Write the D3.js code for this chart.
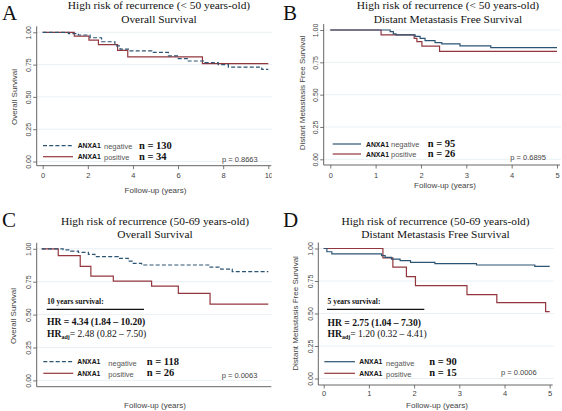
<!DOCTYPE html>
<html><head><meta charset="utf-8">
<script src="https://cdn.jsdelivr.net/npm/d3@7"></script>
<style>body{margin:0;background:#fff}svg{display:block}</style>
</head><body><svg id="c" width="562" height="411"></svg>
<script>
// ---------- DATA ----------
const yTickValues = [0, 0.25, 0.5, 0.75, 1];
const xTicks10 = [0, 2, 4, 6, 8, 10];
const xTicks5 = [0, 1, 2, 3, 4, 5];
const groupLabels = ["negative", "positive"];

// Panel A: OS, < 50 years
const aNegT = [0, 1.14, 1.58, 2.10, 2.61, 3.20, 3.43, 3.80, 4.83, 5.57, 6.01, 6.45, 7.19, 7.78, 8.23, 9.71, 10];
const aNegS = [1, 0.99, 0.979, 0.958, 0.927, 0.895, 0.87, 0.856, 0.844, 0.817, 0.797, 0.778, 0.766, 0.75, 0.731, 0.713, 0.713];
const aPosT = [0, 1.40, 2.05, 2.47, 3.32, 3.77, 7.08, 10];
const aPosS = [1, 0.970, 0.94, 0.905, 0.86, 0.81, 0.758, 0.758];
// Panel B: DMFS, < 50 years
const bNegT = [0, 1.32, 1.39, 1.45, 1.87, 1.98, 2.09, 2.31, 2.46, 2.86, 3.54, 5];
const bNegS = [1, 0.987, 0.97, 0.962, 0.95, 0.936, 0.918, 0.903, 0.893, 0.878, 0.864, 0.864];
const bPosT = [0, 1.12, 1.85, 1.91, 2.02, 2.41, 5];
const bPosS = [1, 0.962, 0.936, 0.91, 0.875, 0.834, 0.834];
// Panel C: OS, 50-69 years
const cNegT = [0, 0.95, 1.28, 1.62, 2.06, 2.35, 3.38, 3.82, 4.04, 4.41, 7.43, 7.9, 8.41, 10];
const cNegS = [1, 0.992, 0.983, 0.973, 0.958, 0.94, 0.928, 0.907, 0.89, 0.877, 0.86, 0.846, 0.826, 0.826];
const cPosT = [0, 0.73, 1.70, 2.17, 3.16, 4.85, 6.03, 7.43, 10];
const cPosS = [1, 0.948, 0.866, 0.792, 0.755, 0.716, 0.662, 0.579, 0.579];
// Panel D: DMFS, 50-69 years
const dNegT = [0, 0.07, 0.18, 1.28, 1.36, 1.5, 1.69, 1.92, 2.46, 3.38, 4.67, 5];
const dNegS = [1, 0.975, 0.958, 0.945, 0.932, 0.919, 0.906, 0.894, 0.883, 0.873, 0.862, 0.862];
const dPosT = [0, 1.31, 1.53, 1.83, 2.03, 3.17, 3.83, 4.91, 5];
const dPosS = [1, 0.928, 0.856, 0.783, 0.714, 0.645, 0.583, 0.514, 0.514];

const nNeg = [130, 95, 118, 90];
const nPos = [34, 26, 26, 15];
const pValues = ["p = 0.8663", "p = 0.6895", "p = 0.0063", "p = 0.0006"];
const panelLetters = ["A", "B", "C", "D"];
const titles1 = ["High risk of recurrence (< 50 years-old)", "High risk of recurrence (< 50 years-old)",
                 "High risk of recurrence (50-69 years-old)", "High risk of recurrence (50-69 years-old)"];
const titles2 = ["Overall Survival", "Distant Metastasis Free Survival", "Overall Survival", "Distant Metastasis Free Survival"];
const yLabels = ["Overall Survival", "Distant Metastasis Free Survival", "Overall Survival", "Distant Metastasis Free Survival"];
const xLabel = "Follow-up (years)";
const hrHeads = [null, null, "10 years survival:", "5 years survival:"];
const hrLines = [null, null, "HR = 4.34 (1.84 \u2013 10.20)", "HR = 2.75 (1.04 \u2013 7.30)"];
const hrAdjLines = [null, null, "= 2.48 (0.82 \u2013 7.50)", "= 1.20 (0.32 \u2013 4.41)"];

// ---------- DRAW ----------
const svg = d3.select('#c');
const serif = '"Liberation Serif","Times New Roman",serif';
const sans = '"Liberation Sans",Arial,sans-serif';
const NEG = '#2c5473', POS = '#93373e';

function zip(t, s) { return t.map((d, i) => ({t: d, s: s[i]})); }

const layout = [
  {x0: 42.7, x1: 268.3, xMax: 10, xt: xTicks10, y0: 161.5, y1: 32.3, axX: 36.7, axY: 165.7, tickLab: 178.5,
   clip: 271.8, cx: 159, t1: 8.5, t2: 22.5, letX: 2, letY: 20, ylx: 16.7, yly: 97, xlx: 155.5, xly: 192.5,
   dashed: true,
   leg: {l1: 43, l2: 73, yN: 145.7, yP: 156.7, ax: 77.7, wx: 104, nx: 139, px: 222, py: 161.5}},
  {x0: 330.3, x1: 557, xMax: 5, xt: xTicks5, y0: 159.3, y1: 30, axX: 323.7, axY: 165, tickLab: 178.3,
   clip: null, cx: 448, t1: 8.5, t2: 22.5, letX: 283, letY: 20, ylx: 305, yly: 93, xlx: 445, xly: 188.3,
   dashed: false,
   leg: {l1: 332.7, l2: 361, yN: 144, yP: 154, ax: 366, wx: 391, nx: 427.7, px: 510.3, py: 159.5}},
  {x0: 41.7, x1: 268.3, xMax: 10, xt: xTicks10, y0: 380.4, y1: 248.8, axX: 36.7, axY: 386.7, tickLab: 396.5,
   clip: 269.2, cx: 155, t1: 225, t2: 238, letX: 2, letY: 226.5, ylx: 16, yly: 316, xlx: 155, xly: 408,
   dashed: true,
   leg: {l1: 43.3, l2: 73.3, yN: 361.7, yP: 373.3, ax: 77.3, wx: 108.3, nx: 146.7, px: 221.7, py: 378},
   hr: {x: 47, hy: 304, ux1: 46.7, ux2: 144, uy: 309.3, l1: 325, l2: 336.5}},
  {x0: 323.7, x1: 549.7, xMax: 5, xt: xTicks5, y0: 378.5, y1: 248.5, axX: 318.3, axY: 385, tickLab: 395.7,
   clip: null, cx: 435.5, t1: 225, t2: 238, letX: 283, letY: 226.5, ylx: 298.3, yly: 313.5, xlx: 437, xly: 408,
   dashed: false,
   leg: {l1: 324.3, l2: 355, yN: 361.7, yP: 373.3, ax: 359.3, wx: 386, nx: 429.3, px: 501, py: 374.5},
   hr: {x: 327.5, hy: 304, ux1: 327, ux2: 424.3, uy: 309.3, l1: 325.5, l2: 336.5}}
];
const series = [
  [zip(aNegT, aNegS), zip(aPosT, aPosS)],
  [zip(bNegT, bNegS), zip(bPosT, bPosS)],
  [zip(cNegT, cNegS), zip(cPosT, cPosS)],
  [zip(dNegT, dNegS), zip(dPosT, dPosS)]
];

const defs = svg.append('defs');

layout.forEach((L, i) => {
  const g = svg.append('g');
  if (L.clip) {
    defs.append('clipPath').attr('id', 'clip' + i)
      .append('rect').attr('x', L.axX - 40).attr('y', L.y1 - 40).attr('width', L.clip - (L.axX - 40)).attr('height', 260);
  }
  const x = d3.scaleLinear().domain([0, L.xMax]).range([L.x0, L.x1]);
  const y = d3.scaleLinear().domain([0, 1]).range([L.y0, L.y1]);

  // grid
  g.append('g').selectAll('line').data(yTickValues).join('line')
    .attr('x1', L.axX).attr('x2', x(L.xMax) + 4)
    .attr('y1', d => y(d)).attr('y2', d => y(d))
    .attr('stroke', '#e8eef3').attr('stroke-width', 0.9);

  // y axis
  const ya = g.append('g').attr('transform', `translate(${L.axX},0)`)
    .call(d3.axisLeft(y).tickValues(yTickValues).tickFormat(d3.format('.2f')).tickSize(3.5).tickSizeOuter(0));
  ya.select('.domain').remove();
  ya.selectAll('line').attr('stroke', '#555').attr('stroke-width', 0.8);
  ya.selectAll('text').attr('transform', 'rotate(-90)').attr('x', 0).attr('y', -5.5).attr('dy', 0)
    .attr('text-anchor', 'middle').attr('font-family', sans).attr('font-size', 7).attr('fill', '#444');
  g.append('line').attr('x1', L.axX).attr('x2', L.axX).attr('y1', y(1) - 6).attr('y2', L.axY)
    .attr('stroke', '#555').attr('stroke-width', 0.9);

  // x axis
  const xg = g.append('g').attr('transform', `translate(0,${L.axY})`);
  if (L.clip) xg.attr('clip-path', `url(#clip${i})`);
  xg.call(d3.axisBottom(x).tickValues(L.xt).tickFormat(d3.format('d')).tickSize(3.5).tickSizeOuter(0));
  xg.select('.domain').remove();
  xg.selectAll('line').attr('stroke', '#555').attr('stroke-width', 0.8);
  xg.selectAll('text').attr('y', L.tickLab - L.axY).attr('dy', 0)
    .attr('font-family', sans).attr('font-size', 7.5).attr('fill', '#444');
  g.append('line').attr('x1', L.axX).attr('x2', x(L.xMax) + 3).attr('y1', L.axY).attr('y2', L.axY)
    .attr('stroke', '#555').attr('stroke-width', 0.9);

  // curves
  const line = d3.line().x(d => x(d.t)).y(d => y(d.s)).curve(d3.curveStepAfter);
  [1, 0].forEach(k => {
    g.append('path').datum(series[i][k]).attr('d', line).attr('fill', 'none')
      .attr('stroke', k === 0 ? NEG : POS).attr('stroke-width', 1.2)
      .attr('stroke-dasharray', (k === 0 && L.dashed) ? '4,2.2' : null);
  });

  // titles
  g.append('text').attr('x', L.cx).attr('y', L.t1).attr('text-anchor', 'middle')
    .attr('font-family', serif).attr('font-size', 11.4).attr('fill', '#111').text(titles1[i]);
  g.append('text').attr('x', L.cx).attr('y', L.t2).attr('text-anchor', 'middle')
    .attr('font-family', serif).attr('font-size', 11.4).attr('fill', '#111').text(titles2[i]);
  g.append('text').attr('x', L.letX).attr('y', L.letY)
    .attr('font-family', serif).attr('font-size', 21).attr('fill', '#111').text(panelLetters[i]);

  // axis titles
  g.append('text').attr('transform', `translate(${L.ylx},${L.yly}) rotate(-90)`).attr('text-anchor', 'middle')
    .attr('font-family', sans).attr('font-size', 8).attr('fill', '#444').text(yLabels[i]);
  g.append('text').attr('x', L.xlx).attr('y', L.xly).attr('text-anchor', 'middle')
    .attr('font-family', sans).attr('font-size', 8).attr('fill', '#444').text(xLabel);

  // legend
  const lg = L.leg;
  [[lg.yN, NEG, L.dashed, groupLabels[0], nNeg[i]], [lg.yP, POS, false, groupLabels[1], nPos[i]]].forEach(([yy, col, dash, lab, n]) => {
    g.append('line').attr('x1', lg.l1).attr('x2', lg.l2).attr('y1', yy).attr('y2', yy)
      .attr('stroke', col).attr('stroke-width', 1.2).attr('stroke-dasharray', dash ? '4,2.2' : null);
    g.append('text').attr('x', lg.ax).attr('y', yy + 2.5).attr('font-family', sans).attr('font-weight', 'bold')
      .attr('font-size', 6.8).attr('fill', '#111').text('ANXA1');
    g.append('text').attr('x', lg.wx).attr('y', yy + (L.hr ? 4 : 2.8)).attr('font-family', sans)
      .attr('font-size', 7.5).attr('fill', '#555').text(lab);
    g.append('text').attr('x', lg.nx).attr('y', yy + 3).attr('font-family', serif).attr('font-weight', 'bold')
      .attr('font-size', 10.5).attr('fill', '#111').text('n = ' + n);
  });
  g.append('text').attr('x', lg.px).attr('y', lg.py).attr('font-family', sans)
    .attr('font-size', 7.5).attr('fill', '#444').text(pValues[i]);

  // HR annotation
  if (L.hr) {
    const h = L.hr;
    g.append('text').attr('x', h.x).attr('y', h.hy).attr('font-family', serif).attr('font-weight', 'bold')
      .attr('font-size', 7.5).attr('fill', '#111').text(hrHeads[i]);
    g.append('line').attr('x1', h.ux1).attr('x2', h.ux2).attr('y1', h.uy).attr('y2', h.uy)
      .attr('stroke', '#111').attr('stroke-width', 1.3);
    g.append('text').attr('x', h.x).attr('y', h.l1).attr('font-family', serif).attr('font-weight', 'bold')
      .attr('font-size', 9.6).attr('fill', '#111').text(hrLines[i]);
    const t = g.append('text').attr('x', h.x).attr('y', h.l2).attr('font-family', serif)
      .attr('font-size', 9.6).attr('fill', '#111');
    t.append('tspan').attr('font-weight', 'bold').text('HR');
    t.append('tspan').attr('font-weight', 'bold').attr('font-size', 6).attr('dy', 2.5).text('adj');
    t.append('tspan').attr('dy', -2.5).text(hrAdjLines[i]);
  }
});
</script>
</body></html>
